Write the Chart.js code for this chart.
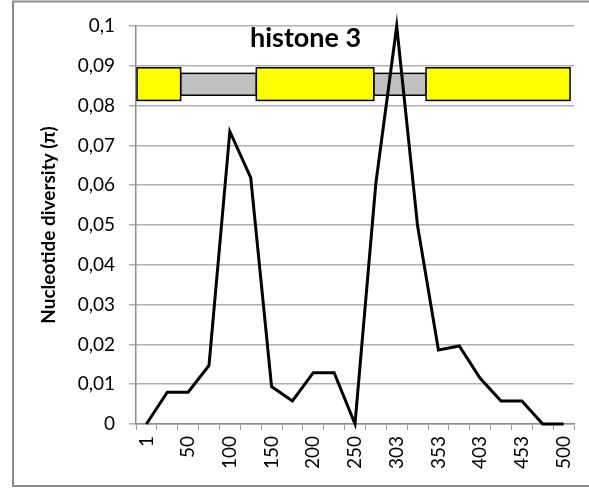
<!DOCTYPE html>
<html>
<head>
<meta charset="utf-8">
<script src="https://cdn.jsdelivr.net/npm/chart.js@4.4.0/dist/chart.umd.min.js"></script>
<style>
  html, body { margin: 0; padding: 0; background: #ffffff; }
  #wrap { width: 589px; height: 488px; position: relative; }
</style>
</head>
<body>
<div id="wrap"><canvas id="diversityChart"></canvas></div>
<script>
// sliding window positions (only every other one is labelled)
var positions = ['1', '25', '50', '75', '100', '125', '150', '175', '200', '225', '250',
                 '278', '303', '328', '353', '378', '403', '428', '453', '478', '500'];
var diversity = [0, 0.008, 0.008, 0.0147, 0.0735, 0.0619, 0.0094, 0.0058, 0.0129, 0.0129, 0,
                 0.0605, 0.1, 0.0498, 0.0186, 0.0196, 0.0115, 0.0058, 0.0058, 0, 0];

// gene model drawn over the plot, in category-index units
var exons = [[-0.45, 1.64], [5.27, 10.9], [13.41, 20.31]];
var introns = [[1.64, 5.27], [10.9, 13.41]];
var exonY = [0.0813, 0.0895];
var intronY = [0.0826, 0.0881];
var geneName = 'histone 3';
var geneLabelAt = [7.63, 0.0969];

var geneModel = {
    id: 'geneModel',
    beforeDatasetsDraw: function (chart) {
        var ctx = chart.ctx;
        var x = chart.scales.x, y = chart.scales.y;
        ctx.save();
        ctx.lineWidth = 1.5;
        ctx.strokeStyle = '#000000';
        function box(span, ys, fill) {
            var x0 = x.getPixelForValue(span[0]), x1 = x.getPixelForValue(span[1]);
            var y0 = y.getPixelForValue(ys[1]), y1 = y.getPixelForValue(ys[0]);
            ctx.fillStyle = fill;
            ctx.fillRect(x0, y0, x1 - x0, y1 - y0);
            ctx.strokeRect(x0, y0, x1 - x0, y1 - y0);
        }
        introns.forEach(function (s) { box(s, intronY, '#c0c0c0'); });
        exons.forEach(function (s) { box(s, exonY, '#ffff00'); });

        ctx.fillStyle = '#000000';
        ctx.font = 'bold 27px Lato';
        ctx.textAlign = 'center';
        ctx.textBaseline = 'middle';
        ctx.fillText(geneName, x.getPixelForValue(geneLabelAt[0]), y.getPixelForValue(geneLabelAt[1]));
        ctx.restore();
    }
};

var frame = {
    id: 'frame',
    beforeDraw: function (chart) {
        var ctx = chart.ctx;
        ctx.save();
        ctx.fillStyle = '#ffffff';
        ctx.fillRect(0, 0, chart.width, chart.height);
        ctx.strokeStyle = '#8c8c8c';
        ctx.lineWidth = 2;
        ctx.strokeRect(13, 1.5, chart.width + 20, 484.5);
        ctx.restore();
    }
};

var ctx = document.getElementById('diversityChart').getContext('2d');

var chart = new Chart(ctx, {
    type: 'line',
    data: {
        labels: positions,
        datasets: [
            {
                label: 'Nucleotide diversity',
                data: diversity,
                borderColor: '#000000',
                backgroundColor: '#000000',
                borderWidth: 3,
                fill: false,
                tension: 0,
                pointRadius: 0,
                clip: false
            }
        ]
    },
    options: {
        responsive: true,
        maintainAspectRatio: false,
        animation: false,
        layout: {
            padding: { left: 13, right: 15, top: 26, bottom: 4 }
        },
        plugins: {
            legend: { display: false },
            title: { display: false },
            tooltip: { enabled: false }
        },
        scales: {
            x: {
                offset: true,
                afterFit: function (scale) {
                    scale.height = 60;
                    scale.paddingRight = 0;
                    scale.paddingLeft = 0;
                },
                ticks: {
                    autoSkip: false,
                    minRotation: 90,
                    maxRotation: 90,
                    padding: 6,
                    color: '#000000',
                    font: { family: 'Lato', size: 19 },
                    callback: function (value, index) {
                        return index % 2 === 0 ? positions[index] : '';
                    }
                },
                grid: {
                    offset: true,
                    drawOnChartArea: false,
                    drawTicks: true,
                    tickLength: 6,
                    color: '#a0a0a0',
                    lineWidth: 1
                },
                border: { color: '#8c8c8c', width: 1.5 }
            },
            y: {
                min: 0,
                max: 0.1,
                afterFit: function (scale) { scale.width = 123; },
                ticks: {
                    stepSize: 0.01,
                    padding: 14,
                    color: '#000000',
                    font: { family: 'Lato', size: 19 },
                    callback: function (value) {
                        return String(Math.round(value * 100) / 100).replace('.', ',');
                    }
                },
                grid: {
                    drawTicks: true,
                    tickLength: 7,
                    color: '#b0b0b0',
                    lineWidth: 1.5
                },
                border: { color: '#8c8c8c', width: 1.5 },
                title: {
                    display: true,
                    text: 'Nucleotide diversity (π)',
                    color: '#000000',
                    font: { family: 'Lato', size: 19, weight: 'bold' },
                    padding: { top: 24, bottom: 0 }
                }
            }
        }
    },
    plugins: [frame, geneModel]
});
</script>
</body>
</html>
